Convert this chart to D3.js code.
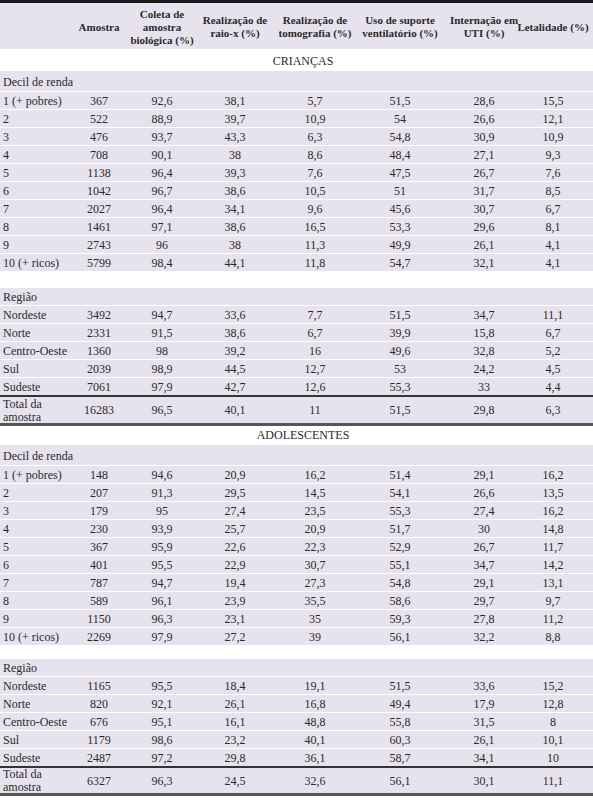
<!DOCTYPE html><html><head><meta charset="utf-8"><script src="https://cdn.jsdelivr.net/npm/d3@7"></script>
<style>body{margin:0;background:#fff}</style></head><body><svg id="c" width="593" height="800" font-family="'Liberation Serif', 'DejaVu Serif', serif"></svg>
<script>
const columns=["Amostra","Coleta de|amostra|biológica (%)","Realização de|raio-x (%)","Realização de|tomografia (%)","Uso de suporte|ventilatório (%)","Internação em|UTI (%)","Letalidade (%)"];
const decilLabels=["1 (+ pobres)","2","3","4","5","6","7","8","9","10 (+ ricos)"];
const regionLabels=["Nordeste","Norte","Centro-Oeste","Sul","Sudeste"];
const criancasDecil=[[367,"92,6","38,1","5,7","51,5","28,6","15,5"],[522,"88,9","39,7","10,9","54","26,6","12,1"],[476,"93,7","43,3","6,3","54,8","30,9","10,9"],[708,"90,1","38","8,6","48,4","27,1","9,3"],[1138,"96,4","39,3","7,6","47,5","26,7","7,6"],[1042,"96,7","38,6","10,5","51","31,7","8,5"],[2027,"96,4","34,1","9,6","45,6","30,7","6,7"],[1461,"97,1","38,6","16,5","53,3","29,6","8,1"],[2743,"96","38","11,3","49,9","26,1","4,1"],[5799,"98,4","44,1","11,8","54,7","32,1","4,1"]];
const criancasRegiao=[[3492,"94,7","33,6","7,7","51,5","34,7","11,1"],[2331,"91,5","38,6","6,7","39,9","15,8","6,7"],[1360,"98","39,2","16","49,6","32,8","5,2"],[2039,"98,9","44,5","12,7","53","24,2","4,5"],[7061,"97,9","42,7","12,6","55,3","33","4,4"]];
const criancasTotal=[16283,"96,5","40,1","11","51,5","29,8","6,3"];
const adolDecil=[[148,"94,6","20,9","16,2","51,4","29,1","16,2"],[207,"91,3","29,5","14,5","54,1","26,6","13,5"],[179,"95","27,4","23,5","55,3","27,4","16,2"],[230,"93,9","25,7","20,9","51,7","30","14,8"],[367,"95,9","22,6","22,3","52,9","26,7","11,7"],[401,"95,5","22,9","30,7","55,1","34,7","14,2"],[787,"94,7","19,4","27,3","54,8","29,1","13,1"],[589,"96,1","23,9","35,5","58,6","29,7","9,7"],[1150,"96,3","23,1","35","59,3","27,8","11,2"],[2269,"97,9","27,2","39","56,1","32,2","8,8"]];
const adolRegiao=[[1165,"95,5","18,4","19,1","51,5","33,6","15,2"],[820,"92,1","26,1","16,8","49,4","17,9","12,8"],[676,"95,1","16,1","48,8","55,8","31,5","8"],[1179,"98,6","23,2","40,1","60,3","26,1","10,1"],[2487,"97,2","29,8","36,1","58,7","34,1","10"]];
const adolTotal=[6327,"96,3","24,5","32,6","56,1","30,1","11,1"];
const sections=[["CRIANÇAS",criancasDecil,criancasRegiao,criancasTotal],["ADOLESCENTES",adolDecil,adolRegiao,adolTotal]];

const svg=d3.select("#c");
const W=593, bg="#e7e3ee", ink="#2a2a2a";
const x=d3.scaleOrdinal().domain(d3.range(7)).range([99,162,235,315,400,484,553]);
const rows=[];
rows.push({type:"header",h:47});
sections.forEach(([name,dec,reg,tot],si)=>{
  rows.push({type:"title",label:name,h:21});
  rows.push({type:"group",label:"Decil de renda",h:21});
  dec.forEach((v,i)=>rows.push({type:"data",label:decilLabels[i],vals:v,h:18}));
  rows.push({type:"blank",h:si?13:16});
  rows.push({type:"group",label:"Região",h:18});
  reg.forEach((v,i)=>rows.push({type:"data",label:regionLabels[i],vals:v,h:18}));
  rows.push({type:"total",label:"Total da|amostra",vals:tot,h:si?27:28});
});
let y=3;
const rule=(yy,w,c)=>svg.append("rect").attr("x",0).attr("y",yy).attr("width",W).attr("height",w).attr("fill",c);
rule(0,3,"#1a1a1a");
const T=(g,xx,yy,s,fs,anchor,bold)=>g.append("text").attr("x",xx).attr("y",yy).attr("text-anchor",anchor).attr("font-size",fs).attr("font-weight",bold?"bold":"normal").attr("fill",ink).text(s);
rows.forEach(r=>{
  const g=svg.append("g").attr("transform",`translate(0,${y})`);
  if(r.type!=="title"&&r.type!=="blank") g.append("rect").attr("width",W).attr("height",r.h-1).attr("y",r.type==="total"?1:0).attr("fill",bg);
  const cy=r.h/2+4;
  if(r.type==="header"){
    columns.forEach((c,i)=>{const ls=c.split("|");ls.forEach((l,j)=>T(g,x(i),cy+(j-(ls.length-1)/2)*13,l,11,"middle",true));});
  } else if(r.type==="title"){
    T(g,303,cy,r.label,12,"middle");
  } else if(r.type==="group"){
    T(g,3,cy,r.label,12,"start");
  } else {
    if(r.type==="blank") {y+=r.h;return;}
    const ls=r.label.split("|");
    ls.forEach((l,j)=>T(g,3,cy+(j-(ls.length-1)/2)*13,l,12,"start"));
    r.vals.forEach((v,i)=>T(g,x(i),cy,v,12,"middle"));
  }
  if(r.type==="total"){rule(y-1,2,"#333");rule(y+r.h-1,3,"#555");}
  y+=r.h;
});
</script></body></html>
